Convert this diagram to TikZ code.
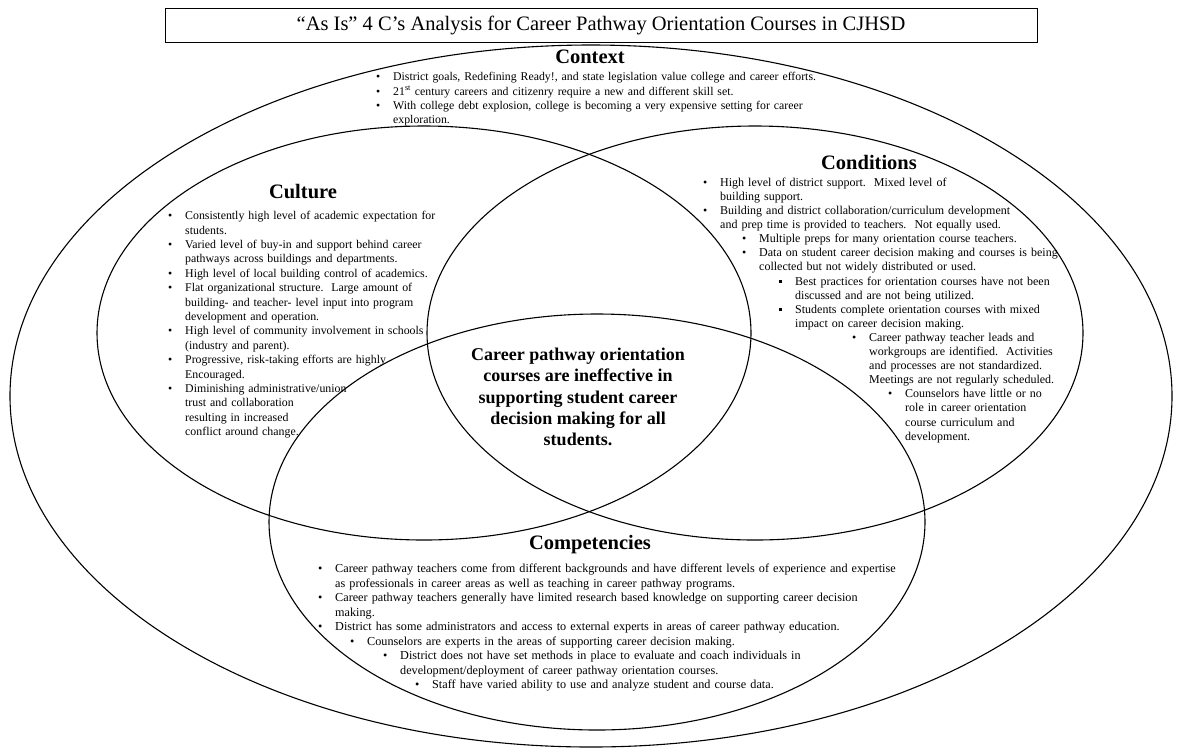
\documentclass[tikz,border=0pt]{standalone}
\usepackage{fontspec}
\setmainfont{Liberation Serif}
\usetikzlibrary{shapes.geometric}
\newcommand{\entry}[2]{\par\hangindent=\dimexpr#1pt+17pt\relax\hangafter=1\noindent\hspace*{#1pt}\makebox[17pt][l]{\textbullet}\ignorespaces#2}
\newcommand{\sqentry}[2]{\par\hangindent=\dimexpr#1pt+17pt\relax\hangafter=1\noindent\hspace*{#1pt}\makebox[17pt][l]{\hspace{0.5pt}\rule[1.8pt]{3.6pt}{3.6pt}}\ignorespaces#2}
\begin{document}
\begin{tikzpicture}[x=1pt,y=-1pt]
    \tikzstyle{ring}=[ellipse,draw,line width=1.1pt,inner sep=0pt]
    \tikzstyle{titlebox}=[rectangle,draw,line width=1pt,minimum width=872pt,minimum height=34pt,inner sep=0pt,font=\fontsize{20.5}{23}\selectfont]
    \tikzstyle{head}=[inner sep=0pt,font=\bfseries\fontsize{20.5}{24}\selectfont]
    \tikzstyle{list}=[anchor=north west,inner sep=0pt,text width=820pt,align=left]
    \useasboundingbox (0,0) rectangle (1177,748);
    \node (outer) at (591,396) [ring,minimum width=1162pt,minimum height=702pt] {};
    \node (culture) at (424,333) [ring,minimum width=654pt,minimum height=414pt] {};
    \node (conditions) at (755,333) [ring,minimum width=656pt,minimum height=414pt] {};
    \node (competencies) at (597,522) [ring,minimum width=656pt,minimum height=416pt] {};
    \node (title) at (601,25) [titlebox] {``As Is'' 4 C's Analysis for Career Pathway Orientation Courses in CJHSD};
    \node (contexthead) at (590,57) [head] {Context};
    \node (contextlist) at (376,66) [list,font=\fontsize{11.8}{14.4}\selectfont] {%
      \entry{0}{District goals, Redefining Ready!, and state legislation value college and career efforts.}
      \entry{0}{21\textsuperscript{st} century careers and citizenry require a new and different skill set.}
      \entry{0}{With college debt explosion, college is becoming a very expensive setting for career\newline exploration.}\par};
    \node (culturehead) at (303,192) [head] {Culture};
    \node (culturelist) at (168,205) [list,font=\fontsize{11.85}{14.4}\selectfont] {%
      \entry{0}{Consistently high level of academic expectation for\newline students.}
      \entry{0}{Varied level of buy-in and support behind career\newline pathways across buildings and departments.}
      \entry{0}{High level of local building control of academics.}
      \entry{0}{Flat organizational structure.\ \ Large amount of\newline building- and teacher- level input into program\newline development and operation.}
      \entry{0}{High level of community involvement in schools\newline (industry and parent).}
      \entry{0}{Progressive, risk-taking efforts are highly\newline Encouraged.}
      \entry{0}{Diminishing administrative/union\newline trust and collaboration\newline resulting in increased\newline conflict around change.}\par};
    \node (conditionshead) at (869,162) [head] {Conditions};
    \node (conditionslist) at (703,172) [list,font=\fontsize{12}{14.1}\selectfont] {%
      \entry{0}{High level of district support.\ \ Mixed level of\newline building support.}
      \entry{0}{Building and district collaboration/curriculum development\newline and prep time is provided to teachers.\ \ Not equally used.}
      \entry{39}{Multiple preps for many orientation course teachers.}
      \entry{39}{Data on student career decision making and courses is being\newline collected but not widely distributed or used.}
      \sqentry{75}{Best practices for orientation courses have not been\newline discussed and are not being utilized.}
      \sqentry{75}{Students complete orientation courses with mixed\newline impact on career decision making.}
      \entry{149}{Career pathway teacher leads and\newline workgroups are identified.\ \ Activities\newline and processes are not standardized.\newline Meetings are not regularly scheduled.}
      \entry{185}{Counselors have little or no\newline role in career orientation\newline course curriculum and\newline development.}\par};
    \node (problem) at (578,397) [align=center,font=\bfseries\fontsize{18}{21.2}\selectfont] {Career pathway orientation\\courses are ineffective in\\supporting student career\\decision making for all\\students.};
    \node (competencieshead) at (590,545) [head] {Competencies};
    \node (competencieslist) at (318,558) [list,font=\fontsize{12.2}{14.5}\selectfont] {%
      \entry{0}{Career pathway teachers come from different backgrounds and have different levels of experience and expertise\newline as professionals in career areas as well as teaching in career pathway programs.}
      \entry{0}{Career pathway teachers generally have limited research based knowledge on supporting career decision\newline making.}
      \entry{0}{District has some administrators and access to external experts in areas of career pathway education.}
      \entry{32}{Counselors are experts in the areas of supporting career decision making.}
      \entry{65}{District does not have set methods in place to evaluate and coach individuals in\newline development/deployment of career pathway orientation courses.}
      \entry{97}{Staff have varied ability to use and analyze student and course data.}\par};
\end{tikzpicture}
\end{document}
